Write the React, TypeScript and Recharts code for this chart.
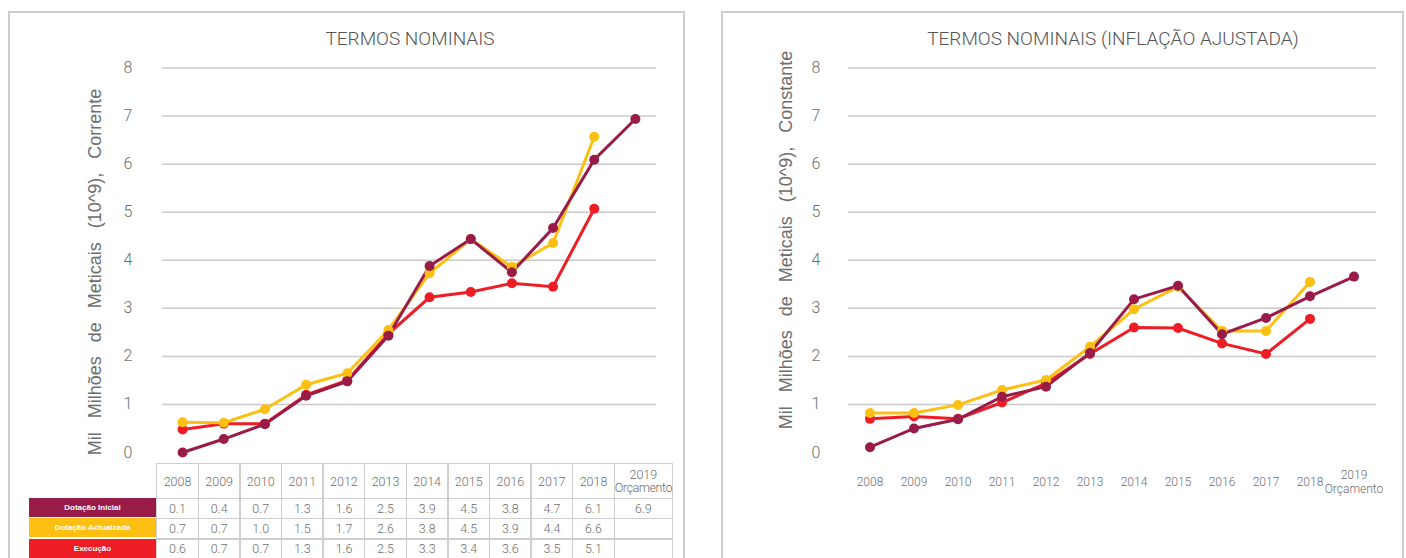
import React from "react";
import { LineChart, Line, XAxis, YAxis, CartesianGrid } from "recharts";

// categories (x axis) and y ticks
const years = ["2008", "2009", "2010", "2011", "2012", "2013", "2014", "2015", "2016", "2017", "2018", "2019\nOrçamento"];
const yTicks = [0, 1, 2, 3, 4, 5, 6, 7, 8];

// nominal terms (left chart), read from the plotted points
const inicialNom = [0.0, 0.28, 0.59, 1.18, 1.48, 2.43, 3.88, 4.44, 3.75, 4.67, 6.09, 6.94];
const actualNom = [0.63, 0.62, 0.9, 1.41, 1.65, 2.55, 3.73, 4.44, 3.86, 4.36, 6.57, null];
const execNom = [0.48, 0.6, 0.6, 1.2, 1.5, 2.47, 3.23, 3.34, 3.52, 3.45, 5.07, null];

// inflation adjusted (right chart)
const inicialReal = [0.11, 0.5, 0.69, 1.16, 1.37, 2.07, 3.19, 3.47, 2.46, 2.8, 3.25, 3.66];
const actualReal = [0.82, 0.82, 0.99, 1.3, 1.51, 2.2, 2.98, 3.45, 2.53, 2.53, 3.55, null];
const execReal = [0.7, 0.75, 0.7, 1.04, 1.44, 2.05, 2.6, 2.59, 2.27, 2.05, 2.78, null];

// table under the left chart
const tableInicial = ["0.1", "0.4", "0.7", "1.3", "1.6", "2.5", "3.9", "4.5", "3.8", "4.7", "6.1", "6.9"];
const tableActual = ["0.7", "0.7", "1.0", "1.5", "1.7", "2.6", "3.8", "4.5", "3.9", "4.4", "6.6", ""];
const tableExec = ["0.6", "0.7", "0.7", "1.3", "1.6", "2.5", "3.3", "3.4", "3.6", "3.5", "5.1", ""];

const seriesNames = ["Dotação Inicial", "Dotação Actualzada", "Execução"];

const MAROON = "#991b48";
const YELLOW = "#fdbf12";
const RED = "#ee1d25";
const GRID = "#c9c9c9";
const TXT = "#6e6e6e";
const TICK_FONT = "Roboto, 'Liberation Sans', sans-serif";

const build = (a: (number | null)[], b: (number | null)[], c: (number | null)[]) =>
  years.map((y, i) => ({ year: y, inicial: a[i], actual: b[i], exec: c[i] }));

const nominalData = build(inicialNom, actualNom, execNom);
const realData = build(inicialReal, actualReal, execReal);

const YTick = (props: any) => {
  const { x, y, payload } = props;
  return (
    <text x={x} y={y} dy={5} textAnchor="middle" fill={TXT} fontSize={16} fontFamily={TICK_FONT} fontWeight={300}>
      {payload.value}
    </text>
  );
};

const XTick = (props: any) => {
  const { x, y, payload } = props;
  const lines = String(payload.value).split("\n");
  if (lines.length === 1) {
    return (
      <text x={x} y={y} dy={31} textAnchor="middle" fill={TXT} fontSize={12} fontFamily={TICK_FONT} fontWeight={300}>
        {lines[0]}
      </text>
    );
  }
  return (
    <text x={x} y={y} textAnchor="middle" fill={TXT} fontSize={12} fontFamily={TICK_FONT} fontWeight={300}>
      <tspan x={x} dy={24}>{lines[0]}</tspan>
      <tspan x={x} dy={14}>{lines[1]}</tspan>
    </text>
  );
};

function Series() {
  return [
    <Line key="e" dataKey="exec" stroke={RED} strokeWidth={3} dot={{ r: 5, fill: RED, stroke: RED, strokeWidth: 0 }} isAnimationActive={false} />,
    <Line key="a" dataKey="actual" stroke={YELLOW} strokeWidth={3} dot={{ r: 5, fill: YELLOW, stroke: YELLOW, strokeWidth: 0 }} isAnimationActive={false} />,
    <Line key="i" dataKey="inicial" stroke={MAROON} strokeWidth={3} dot={{ r: 5, fill: MAROON, stroke: MAROON, strokeWidth: 0 }} isAnimationActive={false} />,
  ];
}

const titleStyle: React.CSSProperties = {
  position: "absolute",
  top: 27,
  transform: "translateX(-50%)",
  whiteSpace: "nowrap",
  fontFamily: "Roboto, sans-serif",
  fontSize: 19,
  color: "#555",
  fontWeight: 300,
};

const yLabelStyle: React.CSSProperties = {
  position: "absolute",
  transform: "translate(-50%, -50%) rotate(-90deg)",
  whiteSpace: "nowrap",
  fontFamily: "'Liberation Sans', Arial, sans-serif",
  fontSize: 18,
  color: TXT,
  wordSpacing: 9,
};

// column widths of the table (px)
const colW = [...Array(11).fill(41.6), 58];
const colX = colW.map((_, i) => 156 + colW.slice(0, i).reduce((s, v) => s + v, 0));

function DataTable() {
  const rows = [tableInicial, tableActual, tableExec];
  const fills = [MAROON, YELLOW, RED];
  const cell = (left: number, top: number, w: number, h: number): React.CSSProperties => ({
    position: "absolute",
    left,
    top,
    width: w + 1.5,
    height: h + 1.5,
    boxSizing: "border-box",
    border: "1.5px solid #cfcfcf",
    display: "flex",
    alignItems: "center",
    justifyContent: "center",
    textAlign: "center",
    fontFamily: TICK_FONT,
    fontWeight: 300,
    fontSize: 12.5,
    color: TXT,
    lineHeight: "13px",
  });
  return (
    <>
      {years.map((y, i) => (
        <div key={"h" + i} style={cell(colX[i], 463, colW[i], 34.5)}>
          {y.includes("\n") ? (
            <span>
              {y.split("\n")[0]}
              <br />
              <span style={{ letterSpacing: -0.4 }}>{y.split("\n")[1]}</span>
            </span>
          ) : (
            y
          )}
        </div>
      ))}
      {rows.map((r, ri) => (
        <React.Fragment key={"r" + ri}>
          <div
            style={{
              position: "absolute",
              left: 29,
              top: 498 + ri * 20.3,
              width: 127,
              height: 19,
              background: fills[ri],
              color: "#fff",
              fontFamily: "'Liberation Sans', Arial, sans-serif",
              fontWeight: 700,
              fontSize: 8,
              display: "flex",
              alignItems: "center",
              justifyContent: "center",
            }}
          >
            {seriesNames[ri]}
          </div>
          {r.map((v, ci) => (
            <div key={ci} style={cell(colX[ci], 497.5 + ri * 20.3, colW[ci], 20.3)}>
              {v}
            </div>
          ))}
        </React.Fragment>
      ))}
    </>
  );
}

export default function App() {
  return (
    <div style={{ position: "absolute", left: 0, top: 0, width: 1406, height: 558, overflow: "hidden", background: "#fff" }}>
      {/* panel frames */}
      <div style={{ position: "absolute", left: 8, top: 11, width: 677, height: 600, border: "2px solid #cdcdcd", boxSizing: "border-box" }} />
      <div style={{ position: "absolute", left: 721, top: 11, width: 683, height: 600, border: "2px solid #cdcdcd", boxSizing: "border-box" }} />

      {/* left: nominal */}
      <div style={{ position: "absolute", left: 0, top: 0 }}>
        <LineChart width={700} height={558} data={nominalData} margin={{ top: 68, right: 44, bottom: 105.5, left: 0 }}>
          <CartesianGrid vertical={false} stroke={GRID} strokeWidth={1.5} horizontalValues={yTicks.slice(1)} />
          <XAxis dataKey="year" hide padding={{ left: 20.6, right: 20.6 }} />
          <YAxis width={162} domain={[0, 8]} ticks={yTicks} axisLine={false} tickLine={false} tickSize={0} tickMargin={34} tick={<YTick />} />
          {Series()}
        </LineChart>
      </div>
      <div style={{ ...titleStyle, left: 410 }}>TERMOS NOMINAIS</div>
      <div style={{ ...yLabelStyle, left: 95, top: 272 }}>Mil Milhões de Meticais (10^9), Corrente</div>
      <DataTable />

      {/* right: inflation adjusted */}
      <div style={{ position: "absolute", left: 700, top: 0 }}>
        <LineChart width={706} height={558} data={realData} margin={{ top: 68, right: 30, bottom: 65.5, left: 0 }}>
          <CartesianGrid vertical={false} stroke={GRID} strokeWidth={1.5} horizontalValues={yTicks.slice(1)} />
          <XAxis dataKey="year" interval={0} axisLine={false} tickLine={false} tickSize={0} height={40} padding={{ left: 22, right: 22 }} tick={<XTick />} />
          <YAxis width={148} domain={[0, 8]} ticks={yTicks} axisLine={false} tickLine={false} tickSize={0} tickMargin={32} tick={<YTick />} />
          {Series()}
        </LineChart>
      </div>
      <div style={{ ...titleStyle, left: 1113 }}>TERMOS NOMINAIS (INFLAÇÃO AJUSTADA)</div>
      <div style={{ ...yLabelStyle, left: 786, top: 240 }}>Mil Milhões de Meticais (10^9), Constante</div>
    </div>
  );
}
